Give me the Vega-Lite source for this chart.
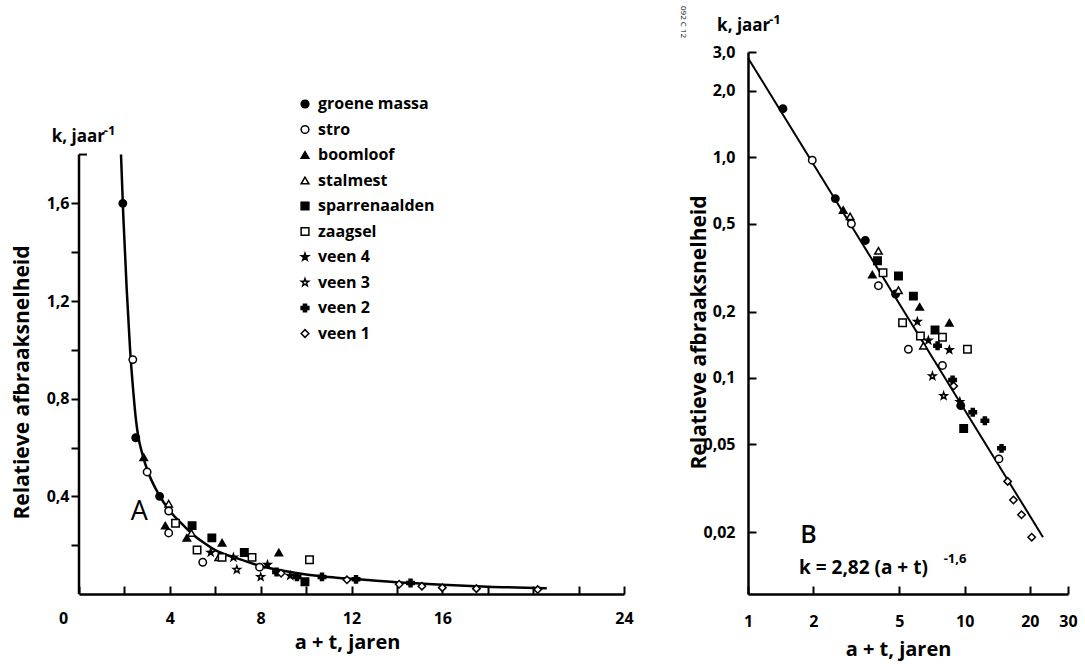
{
  "$schema": "https://vega.github.io/schema/vega-lite/v6.json",
  "background": "white",
  "padding": {"left": 11, "top": 6, "right": 10, "bottom": 5},
  "bounds": "flush",
  "spacing": 124,
  "config": {
    "view": {"stroke": null},
    "font": "Open Sans",
    "axis": {
      "labelFont": "Open Sans", "labelFontWeight": "bold", "labelFontSize": 16, "labelColor": "black",
      "titleFont": "Open Sans", "titleFontWeight": "bold", "titleFontSize": 20, "titleColor": "black",
      "domainColor": "black", "domainWidth": 2.5, "tickColor": "black", "tickWidth": 2, "grid": false
    },
    "legend": {
      "labelFont": "Open Sans", "labelFontWeight": "bold", "labelFontSize": 16, "labelColor": "black"
    }
  },
  "datasets": {
    "pts": [
      {"panel": "A", "type": "groene massa", "x": 1.93, "k": 1.60},
      {"panel": "A", "type": "groene massa", "x": 2.5, "k": 0.64},
      {"panel": "A", "type": "groene massa", "x": 3.55, "k": 0.40},
      {"panel": "A", "type": "stro", "x": 2.37, "k": 0.96},
      {"panel": "A", "type": "stro", "x": 3.0, "k": 0.50},
      {"panel": "A", "type": "stro", "x": 3.95, "k": 0.34},
      {"panel": "A", "type": "stro", "x": 3.95, "k": 0.25},
      {"panel": "A", "type": "stro", "x": 5.45, "k": 0.13},
      {"panel": "A", "type": "stro", "x": 7.95, "k": 0.11},
      {"panel": "A", "type": "boomloof", "x": 2.85, "k": 0.56},
      {"panel": "A", "type": "boomloof", "x": 3.8, "k": 0.28},
      {"panel": "A", "type": "boomloof", "x": 4.75, "k": 0.23},
      {"panel": "A", "type": "boomloof", "x": 6.3, "k": 0.21},
      {"panel": "A", "type": "boomloof", "x": 8.8, "k": 0.17},
      {"panel": "A", "type": "stalmest", "x": 3.95, "k": 0.37},
      {"panel": "A", "type": "stalmest", "x": 4.95, "k": 0.25},
      {"panel": "A", "type": "stalmest", "x": 6.15, "k": 0.15},
      {"panel": "A", "type": "sparrenaalden", "x": 4.98, "k": 0.28},
      {"panel": "A", "type": "sparrenaalden", "x": 5.85, "k": 0.23},
      {"panel": "A", "type": "sparrenaalden", "x": 7.28, "k": 0.17},
      {"panel": "A", "type": "sparrenaalden", "x": 9.95, "k": 0.05},
      {"panel": "A", "type": "zaagsel", "x": 4.25, "k": 0.29},
      {"panel": "A", "type": "zaagsel", "x": 5.2, "k": 0.18},
      {"panel": "A", "type": "zaagsel", "x": 6.3, "k": 0.15},
      {"panel": "A", "type": "zaagsel", "x": 7.62, "k": 0.15},
      {"panel": "A", "type": "zaagsel", "x": 10.15, "k": 0.14},
      {"panel": "A", "type": "veen 4", "x": 5.8, "k": 0.17},
      {"panel": "A", "type": "veen 4", "x": 6.8, "k": 0.15},
      {"panel": "A", "type": "veen 4", "x": 8.3, "k": 0.12},
      {"panel": "A", "type": "veen 4", "x": 9.3, "k": 0.075},
      {"panel": "A", "type": "veen 3", "x": 6.95, "k": 0.10},
      {"panel": "A", "type": "veen 3", "x": 8.0, "k": 0.07},
      {"panel": "A", "type": "veen 2", "x": 8.7, "k": 0.09},
      {"panel": "A", "type": "veen 2", "x": 9.6, "k": 0.07},
      {"panel": "A", "type": "veen 2", "x": 10.7, "k": 0.07},
      {"panel": "A", "type": "veen 2", "x": 12.2, "k": 0.06},
      {"panel": "A", "type": "veen 2", "x": 14.6, "k": 0.045},
      {"panel": "A", "type": "veen 1", "x": 8.9, "k": 0.085},
      {"panel": "A", "type": "veen 1", "x": 11.8, "k": 0.058},
      {"panel": "A", "type": "veen 1", "x": 14.1, "k": 0.04},
      {"panel": "A", "type": "veen 1", "x": 15.1, "k": 0.032},
      {"panel": "A", "type": "veen 1", "x": 16.0, "k": 0.026},
      {"panel": "A", "type": "veen 1", "x": 17.5, "k": 0.022},
      {"panel": "A", "type": "veen 1", "x": 20.2, "k": 0.018},

      {"panel": "B", "type": "groene massa", "x": 1.45, "k": 1.66},
      {"panel": "B", "type": "groene massa", "x": 2.53, "k": 0.65},
      {"panel": "B", "type": "groene massa", "x": 3.48, "k": 0.42},
      {"panel": "B", "type": "groene massa", "x": 4.8, "k": 0.24},
      {"panel": "B", "type": "groene massa", "x": 9.6, "k": 0.075},
      {"panel": "B", "type": "stro", "x": 1.98, "k": 0.97},
      {"panel": "B", "type": "stro", "x": 3.0, "k": 0.50},
      {"panel": "B", "type": "stro", "x": 4.0, "k": 0.262},
      {"panel": "B", "type": "stro", "x": 5.5, "k": 0.135},
      {"panel": "B", "type": "stro", "x": 7.9, "k": 0.114},
      {"panel": "B", "type": "stro", "x": 14.4, "k": 0.043},
      {"panel": "B", "type": "boomloof", "x": 2.75, "k": 0.577},
      {"panel": "B", "type": "boomloof", "x": 3.75, "k": 0.294},
      {"panel": "B", "type": "boomloof", "x": 6.2, "k": 0.21},
      {"panel": "B", "type": "boomloof", "x": 8.5, "k": 0.178},
      {"panel": "B", "type": "stalmest", "x": 2.96, "k": 0.54},
      {"panel": "B", "type": "stalmest", "x": 4.0, "k": 0.377},
      {"panel": "B", "type": "stalmest", "x": 4.95, "k": 0.25},
      {"panel": "B", "type": "stalmest", "x": 6.45, "k": 0.14},
      {"panel": "B", "type": "sparrenaalden", "x": 3.96, "k": 0.34},
      {"panel": "B", "type": "sparrenaalden", "x": 4.95, "k": 0.29},
      {"panel": "B", "type": "sparrenaalden", "x": 5.8, "k": 0.235},
      {"panel": "B", "type": "sparrenaalden", "x": 7.3, "k": 0.165},
      {"panel": "B", "type": "sparrenaalden", "x": 9.9, "k": 0.059},
      {"panel": "B", "type": "zaagsel", "x": 4.2, "k": 0.30},
      {"panel": "B", "type": "zaagsel", "x": 5.17, "k": 0.178},
      {"panel": "B", "type": "zaagsel", "x": 6.25, "k": 0.155},
      {"panel": "B", "type": "zaagsel", "x": 7.9, "k": 0.153},
      {"panel": "B", "type": "zaagsel", "x": 10.3, "k": 0.135},
      {"panel": "B", "type": "veen 4", "x": 6.05, "k": 0.18},
      {"panel": "B", "type": "veen 4", "x": 6.8, "k": 0.148},
      {"panel": "B", "type": "veen 4", "x": 8.5, "k": 0.134},
      {"panel": "B", "type": "veen 4", "x": 9.5, "k": 0.078},
      {"panel": "B", "type": "veen 3", "x": 7.1, "k": 0.102},
      {"panel": "B", "type": "veen 3", "x": 8.0, "k": 0.083},
      {"panel": "B", "type": "veen 2", "x": 7.5, "k": 0.14},
      {"panel": "B", "type": "veen 2", "x": 8.8, "k": 0.098},
      {"panel": "B", "type": "veen 2", "x": 10.9, "k": 0.07},
      {"panel": "B", "type": "veen 2", "x": 12.4, "k": 0.064},
      {"panel": "B", "type": "veen 2", "x": 14.8, "k": 0.048},
      {"panel": "B", "type": "veen 1", "x": 8.9, "k": 0.092},
      {"panel": "B", "type": "veen 1", "x": 15.8, "k": 0.034},
      {"panel": "B", "type": "veen 1", "x": 16.8, "k": 0.028},
      {"panel": "B", "type": "veen 1", "x": 18.3, "k": 0.024},
      {"panel": "B", "type": "veen 1", "x": 20.4, "k": 0.019}
    ],
    "curveA": [
      {"x": 1.85, "k": 1.80}, {"x": 1.95, "k": 1.55}, {"x": 2.1, "k": 1.25}, {"x": 2.25, "k": 1.0},
      {"x": 2.4, "k": 0.82}, {"x": 2.5, "k": 0.72}, {"x": 2.6, "k": 0.65}, {"x": 2.8, "k": 0.57},
      {"x": 3.0, "k": 0.51}, {"x": 3.5, "k": 0.41}, {"x": 4.0, "k": 0.34}, {"x": 4.5, "k": 0.29},
      {"x": 5.0, "k": 0.245}, {"x": 5.5, "k": 0.21}, {"x": 6.0, "k": 0.18}, {"x": 7.0, "k": 0.145},
      {"x": 8.0, "k": 0.115}, {"x": 9.0, "k": 0.095}, {"x": 10.0, "k": 0.08}, {"x": 11.0, "k": 0.07},
      {"x": 12.0, "k": 0.062}, {"x": 14.0, "k": 0.048}, {"x": 16.0, "k": 0.038}, {"x": 18.0, "k": 0.03},
      {"x": 20.6, "k": 0.024}
    ],
    "lineB": [
      {"x": 1.0, "k": 2.82}, {"x": 23.0, "k": 0.019}
    ],
    "one": [{}]
  },
  "hconcat": [
    {
      "width": 545,
      "height": 542,
      "layer": [
        {
          "data": {"name": "one"},
          "mark": {"type": "rule", "color": "black", "strokeWidth": 2.5},
          "encoding": {
            "x": {"datum": 0, "type": "quantitative", "scale": {"domain": [0, 24], "nice": false, "zero": false}},
            "y": {"datum": 0, "type": "quantitative", "scale": {"domain": [0, 2.22], "nice": false}},
            "y2": {"datum": 1.8}
          }
        },
        {
          "data": {"name": "one"},
          "mark": {"type": "rule", "color": "black", "strokeWidth": 2},
          "encoding": {
            "x": {"datum": 0, "type": "quantitative"},
            "x2": {"datum": 0.35},
            "y": {"datum": 1.8, "type": "quantitative"}
          }
        },
        {
          "data": {"name": "curveA"},
          "mark": {"type": "line", "color": "black", "strokeWidth": 2.5, "interpolate": "monotone"},
          "encoding": {
            "x": {"field": "x", "type": "quantitative"},
            "y": {"field": "k", "type": "quantitative"}
          }
        },
        {
          "data": {"name": "pts"},
          "transform": [{"filter": "datum.panel == 'A'"}],
          "mark": {"type": "point", "filled": true, "stroke": "black", "strokeWidth": 1.5, "size": 55, "opacity": 1},
          "encoding": {
            "x": {
              "field": "x", "type": "quantitative",
              "axis": {
                "title": "a + t, jaren", "titleX": 268, "titleY": 48, "titleBaseline": "middle",
                "values": [0, 2, 4, 6, 8, 10, 12, 14, 16, 18, 20, 22, 24],
                "labelExpr": "(datum.value % 4 == 0 && datum.value != 20) ? datum.label : ''",
                "tickSize": -8, "labelPadding": 24, "labelFlush": false,
                "labelOffset": {"condition": {"test": "datum.value == 0", "value": -16}, "value": 0}
              }
            },
            "y": {
              "field": "k", "type": "quantitative",
              "axis": {
                "title": "Relatieve afbraaksnelheid", "titleX": -57, "titleY": 330, "titleBaseline": "middle",
                "titleFontSize": 21,
                "domain": false,
                "values": [0.2, 0.4, 0.6, 0.8, 1.0, 1.2, 1.4, 1.6],
                "labelExpr": "(round(datum.value * 10) % 4 == 0) ? replace(format(datum.value, '.1f'), '.', ',') : ''",
                "tickSize": 8, "labelPadding": 2
              }
            },
            "shape": {
              "field": "type", "type": "nominal",
              "scale": {
                "domain": ["groene massa", "stro", "boomloof", "stalmest", "sparrenaalden", "zaagsel", "veen 4", "veen 3", "veen 2", "veen 1"],
                "range": ["circle", "circle", "triangle-up", "triangle-up", "square", "square",
                  "M0,-1L0.235,-0.324L0.951,-0.309L0.38,0.124L0.588,0.809L0,0.4L-0.588,0.809L-0.38,0.124L-0.951,-0.309L-0.235,-0.324Z",
                  "M0,-1L0.235,-0.324L0.951,-0.309L0.38,0.124L0.588,0.809L0,0.4L-0.588,0.809L-0.38,0.124L-0.951,-0.309L-0.235,-0.324Z",
                  "cross", "diamond"]
              },
              "legend": {
                "title": null, "orient": "none", "legendX": 218, "legendY": 44,
                "padding": 0, "rowPadding": 9.5, "labelOffset": 5, "symbolSize": 60,
                "encode": {"symbols": {"update": {"stroke": {"value": "black"}, "strokeWidth": {"value": 1.5}}}}
              }
            },
            "fill": {
              "field": "type", "type": "nominal",
              "scale": {
                "domain": ["groene massa", "stro", "boomloof", "stalmest", "sparrenaalden", "zaagsel", "veen 4", "veen 3", "veen 2", "veen 1"],
                "range": ["black", "white", "black", "white", "black", "white", "black", "white", "black", "white"]
              },
              "legend": {
                "title": null, "orient": "none", "legendX": 218, "legendY": 44,
                "padding": 0, "rowPadding": 9.5, "labelOffset": 5, "symbolSize": 60,
                "encode": {"symbols": {"update": {"stroke": {"value": "black"}, "strokeWidth": {"value": 1.5}}}}
              }
            }
          }
        },
        {
          "data": {"name": "one"},
          "mark": {"type": "text", "text": "k, jaar", "align": "left", "baseline": "middle", "font": "Open Sans", "fontWeight": "bold", "fontSize": 17, "fill": "black"},
          "encoding": {"x": {"datum": -1.2, "type": "quantitative"}, "y": {"datum": 1.87, "type": "quantitative"}}
        },
        {
          "data": {"name": "one"},
          "mark": {"type": "text", "text": "-1", "align": "left", "baseline": "middle", "font": "Open Sans", "fontWeight": "bold", "fontSize": 13, "fill": "black", "dx": 52, "dy": -6},
          "encoding": {"x": {"datum": -1.2, "type": "quantitative"}, "y": {"datum": 1.87, "type": "quantitative"}}
        },
        {
          "data": {"name": "one"},
          "mark": {"type": "text", "text": "A", "align": "center", "baseline": "middle", "font": "Open Sans", "fontSize": 27, "fill": "black"},
          "encoding": {"x": {"datum": 2.65, "type": "quantitative"}, "y": {"datum": 0.335, "type": "quantitative"}}
        }
      ]
    },
    {
      "width": 320,
      "height": 542,
      "layer": [
        {
          "data": {"name": "lineB"},
          "mark": {"type": "line", "color": "black", "strokeWidth": 2},
          "encoding": {
            "x": {"field": "x", "type": "quantitative", "scale": {"type": "log", "domain": [1, 30], "nice": false}},
            "y": {"field": "k", "type": "quantitative", "scale": {"type": "log", "domain": [0.0105, 3], "nice": false}}
          }
        },
        {
          "data": {"name": "pts"},
          "transform": [{"filter": "datum.panel == 'B'"}],
          "mark": {"type": "point", "filled": true, "stroke": "black", "strokeWidth": 1.5, "size": 55, "opacity": 1},
          "encoding": {
            "x": {
              "field": "x", "type": "quantitative",
              "axis": {
                "title": "a + t, jaren", "titleX": 150, "titleY": 55, "titleBaseline": "middle",
                "values": [1, 2, 5, 10, 20, 30], "labelExpr": "datum.label",
                "tickSize": -8, "labelPadding": 27, "labelFlush": false
              }
            },
            "y": {
              "field": "k", "type": "quantitative",
              "axis": {
                "title": "Relatieve afbraaksnelheid", "titleX": -49, "titleY": 280, "titleBaseline": "middle",
                "titleFontSize": 21,
                "values": [0.02, 0.05, 0.1, 0.2, 0.5, 1, 2, 3],
                "labelExpr": "datum.value < 0.1 ? replace(format(datum.value, '.2f'), '.', ',') : replace(format(datum.value, '.1f'), '.', ',')",
                "tickSize": -8, "labelPadding": 21, "labelFlush": false
              }
            },
            "shape": {"field": "type", "type": "nominal", "legend": null},
            "fill": {"field": "type", "type": "nominal", "legend": null}
          }
        },
        {
          "data": {"name": "one"},
          "mark": {"type": "text", "text": "k, jaar", "align": "left", "baseline": "middle", "font": "Open Sans", "fontWeight": "bold", "fontSize": 17, "fill": "black"},
          "encoding": {"x": {"datum": 0.72, "type": "quantitative"}, "y": {"datum": 3.95, "type": "quantitative"}}
        },
        {
          "data": {"name": "one"},
          "mark": {"type": "text", "text": "-1", "align": "left", "baseline": "middle", "font": "Open Sans", "fontWeight": "bold", "fontSize": 13, "fill": "black", "dx": 52, "dy": -6},
          "encoding": {"x": {"datum": 0.72, "type": "quantitative"}, "y": {"datum": 3.95, "type": "quantitative"}}
        },
        {
          "data": {"name": "one"},
          "mark": {"type": "text", "text": "092 C 12", "align": "center", "baseline": "middle", "font": "Open Sans", "fontSize": 8, "angle": 90, "fill": "black"},
          "encoding": {"x": {"datum": 0.5, "type": "quantitative"}, "y": {"datum": 4.1, "type": "quantitative"}}
        },
        {
          "data": {"name": "one"},
          "mark": {"type": "text", "text": "B", "align": "center", "baseline": "middle", "font": "Open Sans", "fontWeight": 600, "fontSize": 25, "fill": "black"},
          "encoding": {"x": {"datum": 1.9, "type": "quantitative"}, "y": {"datum": 0.0195, "type": "quantitative"}}
        },
        {
          "data": {"name": "one"},
          "mark": {"type": "text", "text": "k = 2,82 (a + t)", "align": "left", "baseline": "middle", "font": "Open Sans", "fontWeight": "bold", "fontSize": 19, "fill": "black"},
          "encoding": {"x": {"datum": 1.72, "type": "quantitative"}, "y": {"datum": 0.0138, "type": "quantitative"}}
        },
        {
          "data": {"name": "one"},
          "mark": {"type": "text", "text": "-1,6", "align": "left", "baseline": "middle", "font": "Open Sans", "fontWeight": "bold", "fontSize": 13, "fill": "black"},
          "encoding": {"x": {"datum": 8.0, "type": "quantitative"}, "y": {"datum": 0.0152, "type": "quantitative"}}
        }
      ]
    }
  ]
}
